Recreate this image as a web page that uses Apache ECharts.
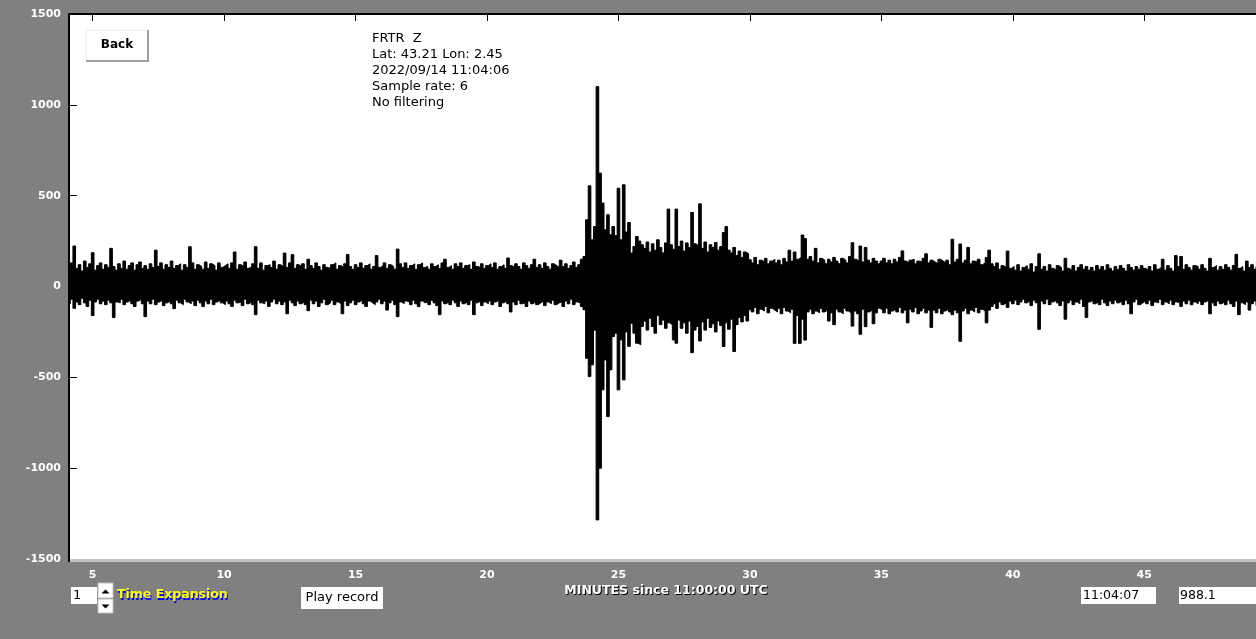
<!DOCTYPE html>
<html>
<head>
<meta charset="utf-8">
<script src="https://cdn.jsdelivr.net/npm/echarts@6/dist/echarts.min.js"></script>
<style>
html,body{margin:0;padding:0;background:#808080;}
#chart{width:1256px;height:639px;}
</style>
</head>
<body>
<div id="chart"></div>
<script>
// ---- data ----
// Each row = one minute (minute 4 .. 49), 10 peak readings per minute (every 0.1 min)
const FIRST_MINUTE = 4;
const SAMPLES_PER_MINUTE = 10;

const upperPeaks = [
  [110, 95, 130, 223, 100, 120, 85, 140, 105, 125],
  [186, 90, 115, 130, 95, 120, 105, 210, 110, 90],
  [125, 100, 140, 95, 115, 130, 90, 120, 135, 100],
  [115, 95, 125, 105, 200, 110, 130, 95, 120, 105],
  [140, 100, 115, 125, 90, 120, 105, 219, 130, 95],
  [120, 110, 95, 135, 100, 125, 115, 90, 130, 105],
  [115, 125, 100, 130, 190, 95, 120, 110, 135, 100],
  [110, 125, 219, 100, 130, 90, 115, 120, 105, 140],
  [95, 120, 110, 184, 105, 130, 175, 100, 120, 110],
  [125, 95, 150, 115, 100, 130, 110, 90, 120, 105],
  [100, 120, 130, 95, 115, 105, 125, 176, 110, 95],
  [120, 105, 130, 100, 115, 125, 95, 110, 170, 105],
  [115, 130, 100, 120, 110, 95, 206, 125, 105, 130],
  [100, 115, 125, 95, 120, 130, 105, 110, 95, 125],
  [110, 120, 100, 130, 150, 105, 115, 95, 125, 110],
  [130, 100, 115, 120, 95, 135, 110, 105, 125, 100],
  [115, 125, 105, 130, 95, 110, 120, 100, 157, 115],
  [105, 125, 110, 95, 130, 115, 100, 120, 150, 105],
  [120, 100, 130, 110, 95, 125, 115, 105, 145, 110],
  [125, 100, 115, 135, 105, 120, 150, 165, 367, 554],
  [257, 330, 1100, 624, 459, 312, 395, 285, 330, 280],
  [541, 257, 560, 300, 352, 184, 220, 275, 250, 230],
  [210, 245, 190, 235, 200, 257, 215, 185, 240, 426],
  [230, 205, 426, 220, 250, 195, 240, 215, 408, 235],
  [225, 455, 210, 245, 190, 230, 215, 242, 200, 220],
  [297, 330, 200, 185, 215, 170, 195, 160, 190, 180],
  [147, 130, 160, 120, 145, 135, 155, 125, 140, 150],
  [130, 145, 120, 155, 135, 200, 140, 190, 150, 160],
  [283, 264, 150, 165, 140, 210, 130, 155, 145, 125],
  [150, 135, 160, 140, 125, 155, 145, 130, 165, 241],
  [150, 140, 223, 135, 215, 145, 130, 155, 140, 125],
  [140, 155, 130, 145, 125, 150, 135, 160, 196, 140],
  [130, 145, 150, 125, 140, 135, 155, 180, 130, 145],
  [135, 125, 150, 140, 130, 145, 120, 260, 135, 150],
  [234, 130, 145, 215, 125, 140, 135, 150, 120, 130],
  [160, 200, 125, 110, 130, 95, 115, 105, 195, 100],
  [110, 90, 120, 85, 105, 115, 95, 125, 80, 110],
  [180, 95, 110, 85, 120, 100, 90, 115, 105, 85],
  [155, 100, 90, 115, 85, 105, 120, 95, 110, 90],
  [105, 85, 115, 95, 110, 90, 120, 100, 85, 110],
  [95, 115, 100, 85, 120, 105, 90, 110, 95, 115],
  [100, 90, 110, 85, 120, 95, 105, 150, 90, 115],
  [100, 85, 170, 110, 165, 95, 120, 105, 90, 115],
  [110, 95, 120, 100, 85, 155, 105, 115, 90, 110],
  [95, 120, 105, 90, 115, 177, 100, 110, 85, 140],
  [105, 120, 95, 110]
];

const lowerPeaks = [
  [-80, -95, -70, -120, -85, -100, -65, -90, -110, -75],
  [-160, -85, -70, -95, -80, -100, -75, -90, -171, -85],
  [-90, -70, -100, -85, -75, -95, -110, -80, -70, -95],
  [-166, -80, -95, -70, -100, -85, -75, -105, -90, -80],
  [-95, -122, -75, -90, -100, -70, -85, -95, -80, -105],
  [-75, -90, -110, -80, -95, -70, -100, -85, -75, -90],
  [-100, -80, -95, -110, -75, -90, -85, -105, -70, -95],
  [-85, -100, -155, -75, -90, -95, -80, -110, -85, -70],
  [-95, -80, -100, -85, -150, -75, -90, -105, -80, -95],
  [-85, -100, -133, -75, -95, -80, -110, -90, -70, -100],
  [-90, -75, -100, -85, -95, -150, -80, -105, -90, -75],
  [-100, -85, -75, -95, -110, -80, -90, -100, -85, -70],
  [-95, -80, -130, -90, -75, -100, -166, -85, -95, -80],
  [-85, -100, -75, -95, -110, -80, -90, -85, -100, -75],
  [-90, -105, -155, -80, -95, -85, -100, -75, -90, -110],
  [-80, -95, -85, -100, -75, -155, -90, -80, -105, -85],
  [-95, -80, -100, -85, -75, -110, -90, -80, -95, -140],
  [-85, -100, -75, -95, -90, -110, -80, -95, -85, -100],
  [-90, -80, -105, -85, -95, -75, -100, -90, -85, -110],
  [-80, -95, -70, -100, -85, -90, -110, -128, -395, -496],
  [-431, -240, -1285, -1000, -569, -404, -716, -459, -275, -257],
  [-569, -294, -514, -250, -330, -202, -257, -312, -321, -220],
  [-190, -240, -175, -220, -257, -160, -210, -185, -230, -200],
  [-210, -294, -312, -185, -230, -200, -257, -190, -364, -240],
  [-220, -300, -195, -240, -175, -225, -205, -250, -190, -215],
  [-330, -200, -235, -180, -358, -210, -170, -195, -160, -190],
  [-128, -140, -115, -150, -125, -135, -110, -145, -120, -130],
  [-140, -120, -150, -115, -135, -145, -125, -313, -160, -313],
  [-180, -295, -140, -125, -150, -135, -145, -120, -140, -130],
  [-190, -145, -210, -125, -140, -150, -120, -135, -145, -218],
  [-135, -150, -263, -125, -221, -140, -130, -205, -145, -120],
  [-130, -145, -120, -150, -135, -125, -140, -115, -145, -130],
  [-200, -125, -140, -115, -150, -135, -120, -145, -130, -225],
  [-130, -145, -120, -150, -135, -125, -140, -155, -130, -145],
  [-302, -135, -120, -150, -130, -140, -115, -145, -125, -135],
  [-200, -130, -110, -95, -120, -85, -100, -90, -115, -80],
  [-95, -75, -100, -85, -70, -90, -80, -105, -75, -90],
  [-236, -80, -95, -70, -100, -85, -75, -90, -105, -80],
  [-180, -90, -75, -100, -85, -95, -70, -110, -170, -85],
  [-75, -95, -85, -100, -70, -90, -105, -80, -95, -75],
  [-90, -80, -100, -75, -95, -150, -85, -70, -100, -90],
  [-80, -95, -75, -105, -85, -90, -70, -100, -85, -95],
  [-75, -100, -85, -90, -110, -80, -95, -75, -100, -85],
  [-95, -80, -100, -85, -75, -150, -90, -105, -80, -95],
  [-85, -100, -75, -95, -110, -80, -155, -90, -100, -85],
  [-130, -95, -80, -105]
];

const xTickValues = [5, 10, 15, 20, 25, 30, 35, 40, 45];
const xRange = [4.1, 49.25];
const yRange = [-1500, 1500];
const yStep = 500;

const infoLines = ['FRTR  Z', 'Lat: 43.21 Lon: 2.45', '2022/09/14 11:04:06', 'Sample rate: 6', 'No filtering'];
const axisTitle = 'MINUTES since 11:00:00 UTC';
const timeExpansionValue = '1';
const timeExpansionLabel = 'Time Expansion';
const cursorTime = '11:04:07';
const cursorValue = '988.1';

function toPoints(rows) {
  const out = [];
  rows.forEach((row, k) => row.forEach((v, j) => out.push([FIRST_MINUTE + k + j / SAMPLES_PER_MINUTE, v])));
  return out;
}

const FONT = '"DejaVu Sans", "Liberation Sans", sans-serif';
const chart = echarts.init(document.getElementById('chart'), null, {renderer: 'canvas'});

// overlapOrigin: the two halves of the trace overlap slightly around zero so no seam shows
const traceSeries = (data, overlapOrigin) => ({
  type: 'line',
  data: data,
  step: 'middle',
  symbol: 'none',
  showSymbol: false,
  silent: true,
  clip: true,
  lineStyle: {color: '#000', width: 1},
  areaStyle: {color: '#000', opacity: 1, origin: overlapOrigin},
  animation: false,
  z: 2
});

chart.setOption({
  backgroundColor: '#808080',
  animation: false,
  grid: {left: 69, right: 0, top: 14, bottom: 80, show: true, backgroundColor: '#ffffff', borderWidth: 0},
  xAxis: [
    {
      type: 'value', position: 'bottom', min: xRange[0], max: xRange[1],
      axisLine: {show: false},
      axisTick: {show: true, inside: true, length: 6, customValues: xTickValues, lineStyle: {color: '#000', width: 1}},
      axisLabel: {
        customValues: xTickValues, margin: 11, color: '#fff',
        fontFamily: FONT, fontWeight: 'bold', fontSize: 11,
        textShadowColor: '#000', textShadowOffsetX: 1, textShadowOffsetY: 1, textShadowBlur: 0
      },
      splitLine: {show: false}
    },
    {
      type: 'value', position: 'top', min: xRange[0], max: xRange[1],
      axisLine: {show: true, onZero: false, lineStyle: {color: '#000', width: 2}},
      axisTick: {show: true, inside: true, length: 7, customValues: xTickValues, lineStyle: {color: '#000', width: 1}},
      axisLabel: {show: false},
      splitLine: {show: false}
    }
  ],
  yAxis: {
    type: 'value', min: yRange[0], max: yRange[1], interval: yStep,
    axisLine: {show: true, onZero: false, lineStyle: {color: '#000', width: 2}},
    axisTick: {show: true, inside: true, length: 8, lineStyle: {color: '#000', width: 1}},
    axisLabel: {
      margin: 8, color: '#fff', fontFamily: FONT, fontWeight: 'bold', fontSize: 11,
      formatter: (v) => String(v),
      textShadowColor: '#000', textShadowOffsetX: 1, textShadowOffsetY: 1, textShadowBlur: 0
    },
    splitLine: {show: false}
  },
  series: [traceSeries(toPoints(upperPeaks), -30), traceSeries(toPoints(lowerPeaks), 30)],
  graphic: [
    // sunken frame bottom edge
    {type: 'rect', z: 100, shape: {x: 70, y: 559, width: 1186, height: 3}, style: {fill: '#c0c0c0'}},
    {type: 'rect', z: 100, shape: {x: 68, y: 556, width: 2, height: 6}, style: {fill: '#000'}},
    // Back button
    {type: 'rect', z: 100, shape: {x: 86, y: 30, width: 62, height: 31}, style: {fill: '#ffffff'}},
    {type: 'polyline', z: 101, shape: {points: [[86, 61], [148, 61], [148, 30]]}, style: {stroke: '#a0a0a0', lineWidth: 2, fill: null}},
    {type: 'polyline', z: 101, shape: {points: [[86, 60], [86, 30], [147, 30]]}, style: {stroke: '#e8e8e8', lineWidth: 1, fill: null}},
    {type: 'text', z: 102, x: 117, y: 45, style: {text: 'Back', font: 'bold 12px ' + FONT, fill: '#000', align: 'center', verticalAlign: 'middle'}},
    // station info
    {type: 'text', z: 102, x: 372, y: 31, style: {text: infoLines.join('\n'), font: '13px ' + FONT, lineHeight: 16, fill: '#000', align: 'left', verticalAlign: 'top'}},
    // axis title (with dark shadow)
    {type: 'text', z: 102, x: 667, y: 592, style: {text: axisTitle, font: 'bold 12.5px ' + FONT, fill: '#000', align: 'center', verticalAlign: 'middle'}},
    {type: 'text', z: 103, x: 666, y: 591, style: {text: axisTitle, font: 'bold 12.5px ' + FONT, fill: '#fff', align: 'center', verticalAlign: 'middle'}},
    // time expansion box + spinner
    {type: 'rect', z: 100, shape: {x: 71, y: 587, width: 26, height: 17}, style: {fill: '#ffffff'}},
    {type: 'text', z: 102, x: 73, y: 596, style: {text: timeExpansionValue, font: '13px ' + FONT, fill: '#000', align: 'left', verticalAlign: 'middle'}},
    {type: 'rect', z: 100, shape: {x: 98, y: 583, width: 15, height: 15}, style: {fill: '#ffffff', stroke: '#c0c0c0', lineWidth: 1}},
    {type: 'rect', z: 100, shape: {x: 98, y: 599, width: 15, height: 14}, style: {fill: '#ffffff', stroke: '#c0c0c0', lineWidth: 1}},
    {type: 'polygon', z: 102, shape: {points: [[101.5, 593.5], [109.5, 593.5], [105.5, 589.5]]}, style: {fill: '#000'}},
    {type: 'polygon', z: 102, shape: {points: [[101.5, 604.5], [109.5, 604.5], [105.5, 608.5]]}, style: {fill: '#000'}},
    {type: 'text', z: 102, x: 118, y: 597, style: {text: timeExpansionLabel, font: 'bold 12.5px ' + FONT, fill: '#0000ff', align: 'left', verticalAlign: 'middle'}},
    {type: 'text', z: 103, x: 117, y: 595, style: {text: timeExpansionLabel, font: 'bold 12.5px ' + FONT, fill: '#ffff00', align: 'left', verticalAlign: 'middle'}},
    // Play record button
    {type: 'rect', z: 100, shape: {x: 301, y: 587, width: 82, height: 22}, style: {fill: '#ffffff'}},
    {type: 'text', z: 102, x: 342, y: 598, style: {text: 'Play record', font: '13px ' + FONT, fill: '#000', align: 'center', verticalAlign: 'middle'}},
    // cursor readouts
    {type: 'rect', z: 100, shape: {x: 1081, y: 587, width: 75, height: 17}, style: {fill: '#ffffff'}},
    {type: 'text', z: 102, x: 1083, y: 596, style: {text: cursorTime, font: '12.5px ' + FONT, fill: '#000', align: 'left', verticalAlign: 'middle'}},
    {type: 'rect', z: 100, shape: {x: 1179, y: 587, width: 77, height: 17}, style: {fill: '#ffffff'}},
    {type: 'text', z: 102, x: 1180, y: 596, style: {text: cursorValue, font: '12.5px ' + FONT, fill: '#000', align: 'left', verticalAlign: 'middle'}}
  ]
});
</script>
</body>
</html>
